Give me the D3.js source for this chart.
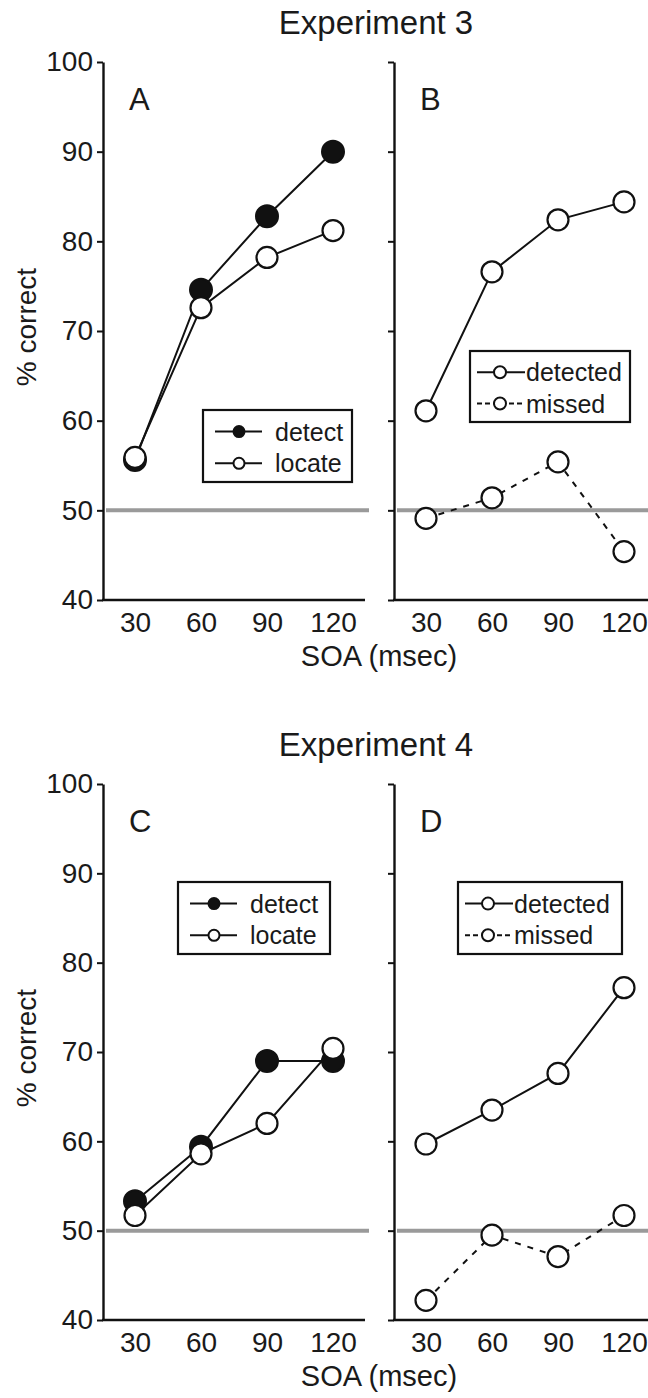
<!DOCTYPE html>
<html><head><meta charset="utf-8">
<script src="https://cdn.jsdelivr.net/npm/d3@7"></script>
<style>
body{margin:0;background:#fff;}
svg text{font-family:"Liberation Sans",Arial,sans-serif;fill:#1a1a1a;}
</style></head>
<body>
<svg id="c" width="648" height="1398"></svg>
<script>
const soa = [30, 60, 90, 120];
const yTicks = [40, 50, 60, 70, 80, 90, 100];
const chance = 50;
const titles = ["Experiment 3", "Experiment 4"];
const letters = ["A", "B", "C", "D"];
const xLabel = "SOA (msec)";
const yLabel = "% correct";

// Experiment 3
const detect3 = [55.6, 74.6, 82.8, 90.0];
const locate3 = [55.9, 72.6, 78.2, 81.2];
const detected3 = [61.1, 76.6, 82.4, 84.4];
const missed3 = [49.1, 51.4, 55.4, 45.4];
// Experiment 4
const detect4 = [53.3, 59.4, 69.0, 69.0];
const locate4 = [51.7, 58.6, 62.0, 70.4];
const detected4 = [59.7, 63.5, 67.6, 77.2];
const missed4 = [42.2, 49.5, 47.1, 51.7];

const legendLeft = ["detect", "locate"];
const legendRight = ["detected", "missed"];

const svg = d3.select("#c");
const FONT = "Liberation Sans, Arial, sans-serif";

const rows = [
  {top: 62, bottom: 600, titleY: 34, title: titles[0]},
  {top: 784, bottom: 1320, titleY: 756, title: titles[1]}
];
const cols = [
  {ax: 103, xEnd: 365, x0: 135, x1: 333, labels: true},
  {ax: 394, xEnd: 648, x0: 426, x1: 624, labels: false}
];

const panels = [
  {r: 0, c: 0, letter: letters[0], kind: "dl", s1: detect3, s2: locate3, leg: {x: 203, y: 410, w: 149, h: 72}},
  {r: 0, c: 1, letter: letters[1], kind: "dm", s1: detected3, s2: missed3, leg: {x: 470, y: 351, w: 160, h: 71}},
  {r: 1, c: 0, letter: letters[2], kind: "dl", s1: detect4, s2: locate4, leg: {x: 178, y: 882, w: 152, h: 72}},
  {r: 1, c: 1, letter: letters[3], kind: "dm", s1: detected4, s2: missed4, leg: {x: 458, y: 882, w: 164, h: 72}}
];

// titles and axis titles
rows.forEach(row => {
  svg.append("text").attr("x", 376).attr("y", row.titleY)
    .attr("text-anchor", "middle").attr("font-size", 33).text(row.title);
  svg.append("text").attr("x", 379).attr("y", row.bottom + 66)
    .attr("text-anchor", "middle").attr("font-size", 29).text(xLabel);
  svg.append("text")
    .attr("transform", `translate(36,${(row.top + row.bottom) / 2 - 4}) rotate(-90)`)
    .attr("text-anchor", "middle").attr("font-size", 28).text(yLabel);
});

panels.forEach(p => {
  const row = rows[p.r], col = cols[p.c];
  const y = d3.scaleLinear().domain([40, 100]).range([row.bottom, row.top]);
  const x = d3.scaleLinear().domain([30, 120]).range([col.x0, col.x1]);
  const g = svg.append("g");

  // chance line
  g.append("line")
    .attr("x1", col.ax + 3)
    .attr("x2", p.c === 0 ? 369 : 648)
    .attr("y1", y(chance)).attr("y2", y(chance))
    .attr("stroke", "#9a9a9a").attr("stroke-width", 4);

  // y axis
  const yAxis = d3.axisLeft(y).tickValues(yTicks).tickSize(6).tickSizeOuter(0).tickPadding(4)
    .tickFormat(col.labels ? d3.format("d") : () => "");
  const ya = g.append("g").attr("transform", `translate(${col.ax},0)`).call(yAxis);
  ya.selectAll("text").attr("font-size", 28).attr("font-family", FONT).attr("fill", "#1a1a1a");
  ya.selectAll("line").attr("stroke", "#111").attr("stroke-width", 2);
  ya.select(".domain").attr("stroke", "#111").attr("stroke-width", 2.4);

  // x axis
  const xAxis = d3.axisBottom(x).tickValues(soa).tickSize(0).tickPadding(12).tickFormat(d3.format("d"));
  const xa = g.append("g").attr("transform", `translate(0,${row.bottom})`).call(xAxis);
  xa.select(".domain").remove();
  xa.selectAll("text").attr("font-size", 28).attr("font-family", FONT).attr("fill", "#1a1a1a");
  g.append("line").attr("x1", col.ax - 1).attr("x2", col.xEnd)
    .attr("y1", row.bottom).attr("y2", row.bottom)
    .attr("stroke", "#111").attr("stroke-width", 2.4);

  // panel letter
  g.append("text").attr("x", col.ax + 26).attr("y", row.top + 48)
    .attr("font-size", 31).text(p.letter);

  const line = d3.line().x((d, i) => x(soa[i])).y(d => y(d));
  const R = 10.5;
  if (p.kind === "dl") {
    g.append("path").datum(p.s1).attr("d", line).attr("fill", "none").attr("stroke", "#111").attr("stroke-width", 2);
    g.append("path").datum(p.s2).attr("d", line).attr("fill", "none").attr("stroke", "#111").attr("stroke-width", 2);
    g.selectAll(".f").data(p.s1).join("circle").attr("class", "f")
      .attr("cx", (d, i) => x(soa[i])).attr("cy", d => y(d)).attr("r", R + 0.5)
      .attr("fill", "#111").attr("stroke", "#111").attr("stroke-width", 2);
    g.selectAll(".o").data(p.s2).join("circle").attr("class", "o")
      .attr("cx", (d, i) => x(soa[i])).attr("cy", d => y(d)).attr("r", R)
      .attr("fill", "#fff").attr("stroke", "#111").attr("stroke-width", 2.2);
  } else {
    g.append("path").datum(p.s1).attr("d", line).attr("fill", "none").attr("stroke", "#111").attr("stroke-width", 2);
    g.append("path").datum(p.s2).attr("d", line).attr("fill", "none").attr("stroke", "#111").attr("stroke-width", 2)
      .attr("stroke-dasharray", "6,7");
    [p.s1, p.s2].forEach((s, k) => {
      g.selectAll(".o" + k).data(s).join("circle").attr("class", "o" + k)
        .attr("cx", (d, i) => x(soa[i])).attr("cy", d => y(d)).attr("r", R)
        .attr("fill", "#fff").attr("stroke", "#111").attr("stroke-width", 2.2);
    });
  }

  // legend
  const L = p.leg;
  const lg = g.append("g").attr("transform", `translate(${L.x},${L.y})`);
  lg.append("rect").attr("width", L.w).attr("height", L.h).attr("fill", "#fff")
    .attr("stroke", "#111").attr("stroke-width", 2.2);
  const names = p.kind === "dl" ? legendLeft : legendRight;
  const rowY = [L.h * 0.30, L.h * 0.74];
  names.forEach((name, k) => {
    const ly = rowY[k];
    if (p.kind === "dl") {
      lg.append("line").attr("x1", 12).attr("x2", 59).attr("y1", ly).attr("y2", ly)
        .attr("stroke", "#111").attr("stroke-width", 2);
      lg.append("circle").attr("cx", 36).attr("cy", ly).attr("r", 5.5)
        .attr("fill", k === 0 ? "#111" : "#fff").attr("stroke", "#111").attr("stroke-width", 2);
      lg.append("text").attr("x", 72).attr("y", ly + 9).attr("font-size", 25).text(name);
    } else {
      lg.append("line").attr("x1", 7).attr("x2", 55).attr("y1", ly).attr("y2", ly)
        .attr("stroke", "#111").attr("stroke-width", 2)
        .attr("stroke-dasharray", k === 1 ? "5,3" : null);
      lg.append("circle").attr("cx", 30).attr("cy", ly).attr("r", 6)
        .attr("fill", "#fff").attr("stroke", "#111").attr("stroke-width", 2);
      lg.append("text").attr("x", 56).attr("y", ly + 9).attr("font-size", 25).text(name);
    }
  });
});
</script>
</body></html>
